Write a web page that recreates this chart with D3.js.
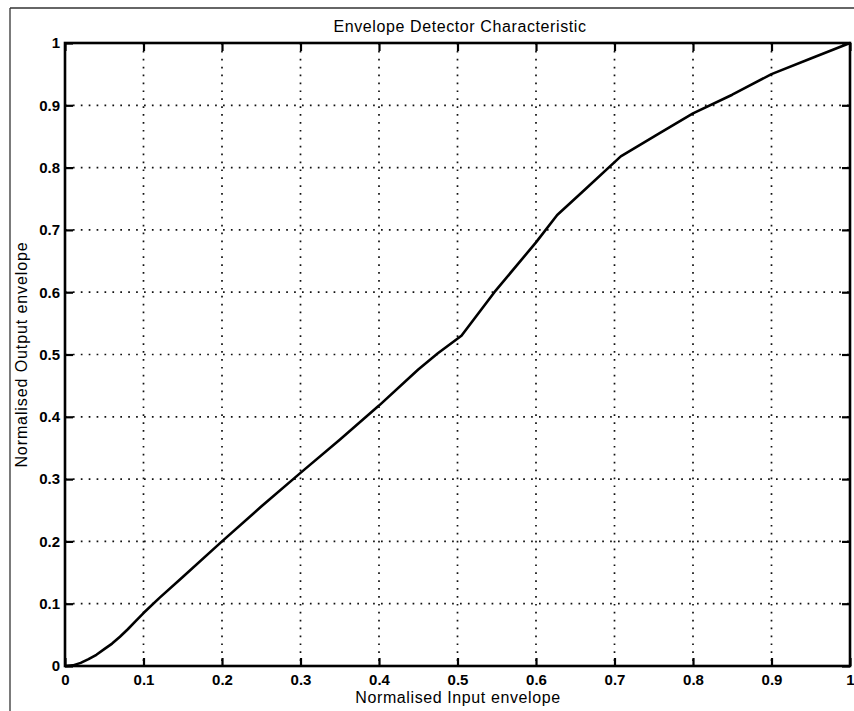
<!DOCTYPE html>
<html>
<head>
<meta charset="utf-8">
<script src="https://cdn.jsdelivr.net/npm/d3@7"></script>
<style>
  html, body { margin: 0; padding: 0; background: #fff; }
  svg { display: block; }
  text { font-family: "Liberation Sans", Arial, Helvetica, sans-serif; fill: #000; }
</style>
</head>
<body>
<svg id="chart" width="854" height="711"></svg>
<script>
// Envelope detector transfer characteristic (normalised input vs output)
const inputEnvelope = [0, 0.01, 0.02, 0.03, 0.04, 0.05, 0.06, 0.07, 0.08, 0.09, 0.1, 0.12, 0.15, 0.2, 0.25,
  0.3, 0.35, 0.4, 0.45, 0.475, 0.505, 0.547, 0.6, 0.627, 0.66, 0.708, 0.757, 0.8, 0.85, 0.9, 0.95, 1];
const outputEnvelope = [0, 0.001, 0.005, 0.011, 0.018, 0.027, 0.036, 0.047, 0.059, 0.072, 0.085, 0.109, 0.143, 0.2, 0.256,
  0.31, 0.363, 0.418, 0.476, 0.502, 0.53, 0.6, 0.68, 0.724, 0.762, 0.818, 0.855, 0.887, 0.917, 0.95, 0.975, 1];

const xTicks = [0, 0.1, 0.2, 0.3, 0.4, 0.5, 0.6, 0.7, 0.8, 0.9, 1];
const yTicks = [0, 0.1, 0.2, 0.3, 0.4, 0.5, 0.6, 0.7, 0.8, 0.9, 1];

const titleText = "Envelope Detector Characteristic";
const xLabelText = "Normalised Input envelope";
const yLabelText = "Normalised Output envelope";

const svg = d3.select("#chart");
const W = 854, H = 711;
const plot = { left: 65, right: 850, top: 43, bottom: 666 };

const x = d3.scaleLinear().domain([0, 1]).range([plot.left, plot.right]);
const y = d3.scaleLinear().domain([0, 1]).range([plot.bottom, plot.top]);

const fmt = d => (d === 0 || d === 1) ? String(d) : d3.format(".1f")(d);

// figure frame
svg.append("line").attr("x1", 10).attr("y1", 8).attr("x2", W).attr("y2", 8)
  .attr("stroke", "#333").attr("stroke-width", 1.3);
svg.append("line").attr("x1", 10).attr("y1", 8).attr("x2", 10).attr("y2", H)
  .attr("stroke", "#333").attr("stroke-width", 1.3);

// dotted grid
const grid = svg.append("g").attr("stroke", "#111").attr("stroke-width", 1.7)
  .attr("stroke-dasharray", "1.7,6.2").attr("fill", "none");
grid.selectAll("line.gx").data(xTicks.slice(1, -1)).join("line").attr("class", "gx")
  .attr("x1", d => x(d)).attr("x2", d => x(d)).attr("y1", plot.top).attr("y2", plot.bottom);
grid.selectAll("line.gy").data(yTicks.slice(1, -1)).join("line").attr("class", "gy")
  .attr("y1", d => y(d)).attr("y2", d => y(d)).attr("x1", plot.left).attr("x2", plot.right);

// axes with inward ticks
const tickLen = 8;
const axisStyle = g => {
  g.select(".domain").remove();
  g.selectAll(".tick line").attr("stroke", "#000").attr("stroke-width", 2.2);
  g.selectAll(".tick text").attr("font-size", 15).attr("font-weight", "bold")
    .attr("font-family", "'Liberation Sans', Arial, sans-serif");
};

svg.append("g").attr("transform", `translate(0,${plot.bottom})`)
  .call(d3.axisBottom(x).tickValues(xTicks).tickFormat(fmt).tickSizeInner(-tickLen).tickSizeOuter(0).tickPadding(8))
  .call(axisStyle);
svg.append("g").attr("transform", `translate(0,${plot.top})`)
  .call(d3.axisTop(x).tickValues(xTicks).tickFormat("").tickSizeInner(-tickLen).tickSizeOuter(0))
  .call(axisStyle);
svg.append("g").attr("transform", `translate(${plot.left},0)`)
  .call(d3.axisLeft(y).tickValues(yTicks).tickFormat(fmt).tickSizeInner(-tickLen).tickSizeOuter(0).tickPadding(5))
  .call(axisStyle);
svg.append("g").attr("transform", `translate(${plot.right},0)`)
  .call(d3.axisRight(y).tickValues(yTicks).tickFormat("").tickSizeInner(-tickLen).tickSizeOuter(0))
  .call(axisStyle);

// box
svg.append("rect").attr("x", plot.left).attr("y", plot.top)
  .attr("width", plot.right - plot.left).attr("height", plot.bottom - plot.top)
  .attr("fill", "none").attr("stroke", "#000").attr("stroke-width", 2.6);

// characteristic curve
const pts = inputEnvelope.map((v, i) => [v, outputEnvelope[i]]);
svg.append("path").datum(pts)
  .attr("fill", "none").attr("stroke", "#000").attr("stroke-width", 2.6)
  .attr("stroke-linejoin", "round")
  .attr("d", d3.line().x(d => x(d[0])).y(d => y(d[1])));

// labels
svg.append("text").attr("x", 460).attr("y", 32).attr("text-anchor", "middle")
  .attr("font-size", 16).attr("letter-spacing", "0.6").text(titleText);
svg.append("text").attr("x", 458).attr("y", 703).attr("text-anchor", "middle")
  .attr("font-size", 16).attr("letter-spacing", "0.6").text(xLabelText);
svg.append("text").attr("transform", `translate(27,${(plot.top + plot.bottom) / 2}) rotate(-90)`)
  .attr("text-anchor", "middle").attr("font-size", 16).attr("letter-spacing", "0.9").text(yLabelText);
</script>
</body>
</html>
